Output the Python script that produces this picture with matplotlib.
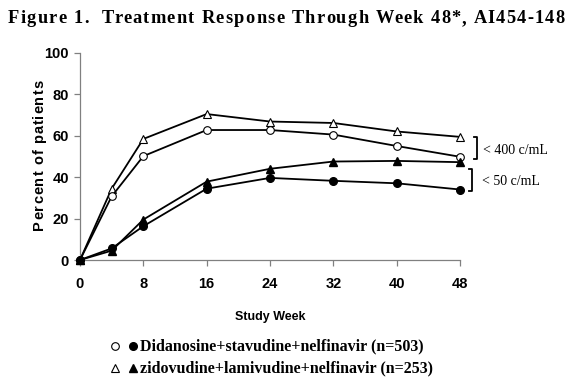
import matplotlib
matplotlib.use("Agg")
import matplotlib.pyplot as plt
from matplotlib.lines import Line2D
from matplotlib.font_manager import FontProperties

weeks = [0, 4, 8, 16, 24, 32, 40, 48]
ddi_400 = [0, 30.7, 50.1, 62.7, 62.7, 60.5, 55.0, 49.8]
zdv_400 = [0, 34.4, 58.4, 70.4, 66.8, 66.1, 62.0, 59.4]
zdv_50 = [0, 4.5, 19.5, 37.8, 44.0, 47.5, 47.8, 47.2]
ddi_50 = [0, 5.6, 16.3, 34.4, 39.6, 38.2, 37.0, 34.0]
xticks = [0, 8, 16, 24, 32, 40, 48]
yticks = [0, 20, 40, 60, 80, 100]
title = 'Figure 1.  Treatment Response Through Week 48*, AI454-148'
ylabel = 'Percent of patients'

W, H = 575, 392
sans = ['Liberation Sans', 'DejaVu Sans']
serif = ['Liberation Serif', 'DejaVu Serif']

fig = plt.figure(figsize=(5.75, 3.92), dpi=100)
renderer = fig.canvas.get_renderer()


def width(s, fp):
    if not s:
        return 0.0
    w1 = renderer.get_text_width_height_descent(s + '|', fp, ismath=False)[0]
    w2 = renderer.get_text_width_height_descent('|', fp, ismath=False)[0]
    return w1 - w2


def spread_text(s, fp, start, end, base, vertical=False):
    nat = width(s, fp)
    extra = (abs(end - start) - nat) / (len(s) - 1)
    for i, ch in enumerate(s):
        if ch == ' ':
            continue
        off = width(s[:i], fp) + i * extra
        if not vertical:
            fig.text((start + off) / W, 1 - base / H, ch, fontproperties=fp,
                     ha='left', va='baseline')
        else:
            fig.text(base / W, 1 - (start - off) / H, ch, fontproperties=fp,
                     rotation=90, rotation_mode='anchor', ha='left', va='baseline')


ax = fig.add_axes([80/W, 1-260/H, 380/W, (260-52.7)/H])

lw = 1.3
ms = 5.5
ax.plot(weeks, zdv_400, color='black', lw=lw, marker='^', ms=ms+0.5, mfc='white', mec='black', mew=0.8, clip_on=False, zorder=3)
ax.plot(weeks, ddi_400, color='black', lw=lw, marker='o', ms=ms, mfc='white', mec='black', mew=0.8, clip_on=False, zorder=3)
ax.plot(weeks, zdv_50, color='black', lw=lw, marker='^', ms=ms+0.5, mfc='black', mec='black', clip_on=False, zorder=3)
ax.plot(weeks, ddi_50, color='black', lw=lw, marker='o', ms=ms, mfc='black', mec='black', clip_on=False, zorder=3)

ax.set_xlim(0, 48)
ax.set_ylim(0, 100)
ax.set_xticks(xticks)
ax.set_yticks(yticks)
for s in ['top', 'right']:
    ax.spines[s].set_visible(False)
for s in ['left', 'bottom']:
    ax.spines[s].set_color('#808080')
    ax.spines[s].set_linewidth(0.9)
ax.tick_params(direction='out', length=4, width=0.9, color='#808080')
ax.tick_params(axis='x', pad=8)
ax.tick_params(axis='y', pad=4)
for lab in ax.get_xticklabels() + ax.get_yticklabels():
    lab.set_fontfamily(sans)
    lab.set_fontweight('bold')
    lab.set_fontsize(10.5)
ax.set_xlabel('Study Week', fontfamily=sans, fontweight='bold', fontsize=9, labelpad=15)

fp_title = FontProperties(family=serif, weight='bold', size=13.2)
spread_text(title, fp_title, 8, 565, 23)
fp_ylab = FontProperties(family=sans, weight='bold', size=10.5)
spread_text(ylabel, fp_ylab, 230, 80, 43.5, vertical=True)


def bracket(x, y0, y1):
    fig.add_artist(Line2D([x-3/W, x, x, x-3/W], [1-y0/H, 1-y0/H, 1-y1/H, 1-y1/H],
                          transform=fig.transFigure, color='black', lw=1.3))


bracket(477/W, 137, 159)
bracket(472/W, 169, 191)
fig.text(483/W, 1-150/H, '< 400 c/mL', fontfamily=serif, fontsize=10, va='center', ha='left')
fig.text(482/W, 1-181/H, '< 50 c/mL', fontfamily=serif, fontsize=10, va='center', ha='left')

rows = [(346, 'o', 'Didanosine+stavudine+nelfinavir (n=503)'),
        (368, '^', 'zidovudine+lamivudine+nelfinavir (n=253)')]
for y, m, t in rows:
    yf = 1 - y/H
    fig.add_artist(Line2D([115/W], [yf], transform=fig.transFigure, marker=m, ms=5.5,
                          mfc='white', mec='black', mew=0.8, ls='none'))
    fig.add_artist(Line2D([133/W], [yf], transform=fig.transFigure, marker=m, ms=5.5,
                          mfc='black', mec='black', ls='none'))
    fig.text(140/W, yf, t, fontfamily=serif, fontweight='bold', fontsize=11.5, va='center', ha='left')

fig.savefig('out.png', dpi=100)
